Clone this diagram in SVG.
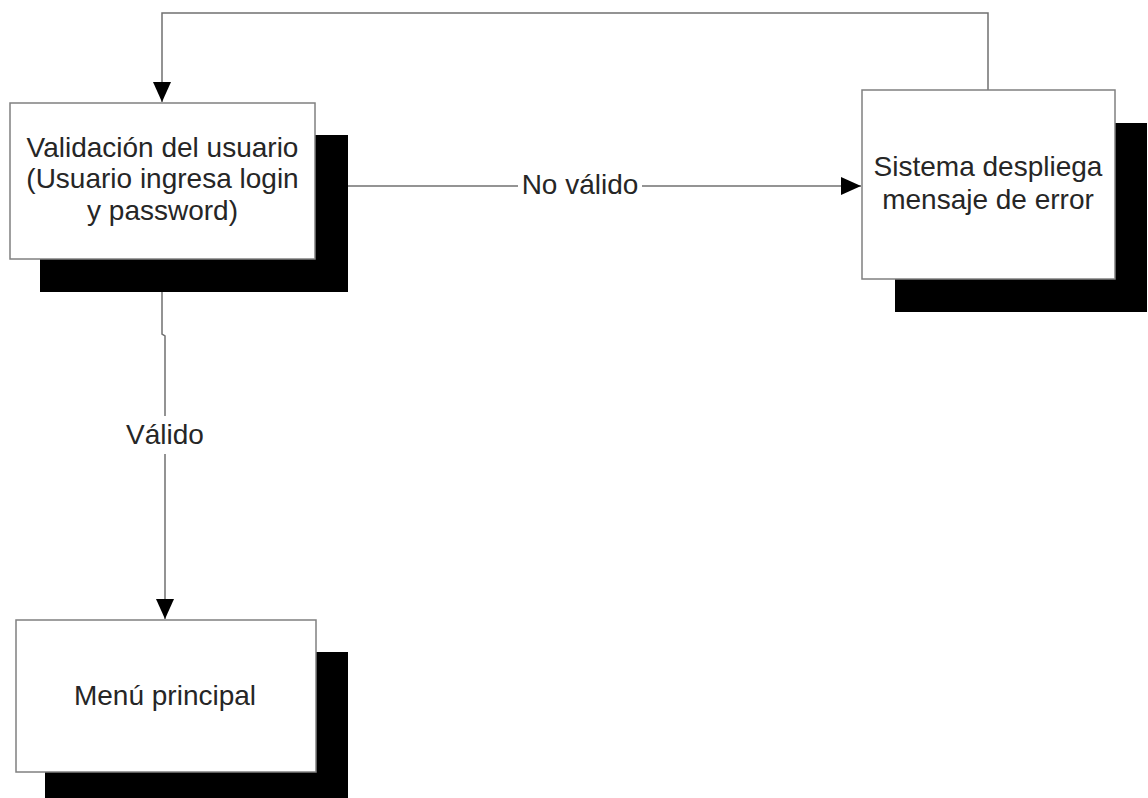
<svg xmlns="http://www.w3.org/2000/svg" width="1148" height="798" viewBox="0 0 1148 798">
<style>
.box{fill:#fff;stroke:#808080;stroke-width:1.5}
.shadow{fill:#000}
.conn{fill:none;stroke:#707070;stroke-width:1.5}
.t{font-family:"Liberation Sans",Arial,sans-serif;font-size:28px;fill:#262626;text-anchor:middle}
.lbl{fill:#fff}
</style>
<defs>
<marker id="ah" viewBox="0 0 20 20" refX="20" refY="10" markerWidth="20" markerHeight="20" markerUnits="userSpaceOnUse" orient="auto">
<path d="M0,1 L20,10 L0,19 Z" fill="#000"/>
</marker>
</defs>
<rect width="1148" height="798" fill="#fff"/>
<g id="connectors">
<polyline class="conn" points="988,90 988,13 162,13 162,102" marker-end="url(#ah)"/>
<polyline class="conn" points="315,186 861,186" marker-end="url(#ah)"/>
<polyline class="conn" points="162,292 162,334 165,336 165,619" marker-end="url(#ah)"/>
<rect class="lbl" x="518" y="170" width="124" height="32"/>
<text class="t" x="580" y="194">No válido</text>
<rect class="lbl" x="122" y="416" width="86" height="38"/>
<text class="t" x="165" y="444">Válido</text>
</g>
<g id="validacion">
<rect class="shadow" x="40" y="135" width="308" height="157"/>
<rect class="box" x="10" y="103" width="305" height="156"/>
<text class="t" x="162.5" y="157">Validación del usuario</text>
<text class="t" x="162.5" y="188">(Usuario ingresa login</text>
<text class="t" x="162.5" y="220">y password)</text>
</g>
<g id="error">
<rect class="shadow" x="895" y="123" width="252" height="189"/>
<rect class="box" x="862" y="90" width="253" height="189"/>
<text class="t" x="988" y="176">Sistema despliega</text>
<text class="t" x="988" y="209">mensaje de error</text>
</g>
<g id="menu">
<rect class="shadow" x="45" y="652" width="303" height="150"/>
<rect class="box" x="16" y="620" width="300" height="152"/>
<text class="t" x="165" y="705">Menú principal</text>
</g>
</svg>
